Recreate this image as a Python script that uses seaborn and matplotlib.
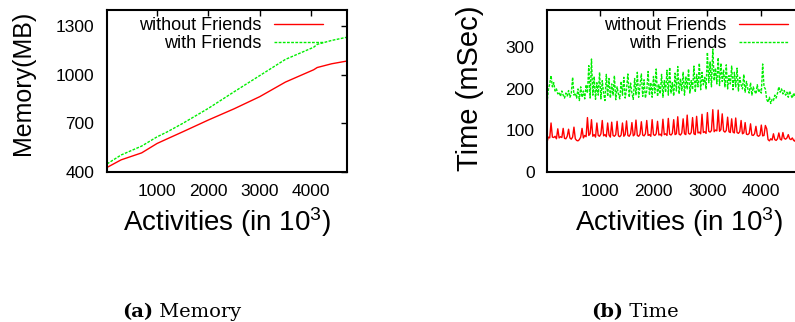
import numpy as np
import matplotlib
matplotlib.use("Agg")
import matplotlib.pyplot as plt
import seaborn as sns

# ---- data ----
mem_x = [25, 300, 700, 1000, 1200, 1500, 2000, 2500, 3000, 3500, 4050, 4120, 4400, 4700]
mem_without = [428, 475, 518, 576, 605, 648, 721, 790, 865, 955, 1031, 1045, 1068, 1085]
mem_with = [450, 505, 560, 617, 648, 700, 793, 895, 995, 1095, 1170, 1188, 1212, 1232]

time_x = np.arange(25, 4701, 25)
time_without = [
    72, 84, 82, 118, 84, 83, 86, 80, 104, 82,
    85, 83, 105, 81, 80, 86, 103, 82, 79, 84,
    108, 80, 76, 75, 78, 84, 105, 82, 88, 85,
    131, 88, 92, 126, 86, 90, 84, 118, 88, 86,
    92, 124, 87, 90, 85, 118, 89, 84, 120, 88,
    86, 90, 122, 87, 85, 89, 118, 86, 90, 123,
    88, 86, 92, 119, 87, 90, 125, 88, 86, 91,
    121, 89, 87, 92, 124, 88, 90, 86, 126, 90,
    88, 92, 122, 89, 91, 87, 127, 90, 92, 88,
    129, 91, 89, 93, 126, 90, 92, 133, 91, 89,
    94, 128, 92, 90, 137, 93, 91, 95, 131, 92,
    90, 134, 94, 96, 92, 139, 95, 97, 93, 143,
    98, 96, 100, 150, 97, 101, 99, 149, 98, 102,
    140, 99, 96, 100, 132, 97, 95, 128, 96, 94,
    130, 95, 93, 97, 124, 92, 94, 119, 91, 90,
    93, 116, 89, 88, 92, 110, 88, 86, 89, 113,
    87, 88, 112, 104, 78, 75, 80, 77, 92, 78,
    76, 80, 94, 79, 77, 95, 81, 79, 82, 90,
    80, 78, 82, 76, 74, 88, 75, 72,
]
time_with = [
    165, 198, 212, 232, 205, 215, 195, 200, 188, 192,
    182, 195, 185, 178, 190, 183, 196, 180, 188, 228,
    185, 190, 178, 200, 172, 205, 180, 195, 176, 210,
    190, 256, 178, 272, 185, 230, 175, 215, 185, 240,
    176, 220, 190, 172, 235, 182, 225, 178, 212, 185,
    232, 174, 205, 188, 176, 218, 185, 228, 178, 200,
    236, 180, 214, 190, 175, 225, 186, 240, 180, 208,
    236, 182, 222, 178, 196, 242, 185, 215, 180, 230,
    190, 248, 182, 210, 188, 235, 180, 220, 192, 245,
    185, 252, 190, 215, 183, 238, 195, 254, 188, 225,
    196, 240, 185, 230, 200, 248, 190, 220, 198, 255,
    192, 235, 205, 262, 198, 240, 210, 228, 200, 288,
    215, 265, 205, 296, 220, 250, 212, 275, 208, 262,
    218, 245, 205, 258, 200, 232, 212, 255, 198, 240,
    205, 250, 195, 228, 210, 200, 235, 192, 218, 200,
    190, 215, 185, 205, 195, 188, 210, 192, 198, 190,
    260, 205, 200, 175, 168, 180, 165, 175, 172, 185,
    178, 190, 205, 192, 200, 188, 196, 185, 192, 180,
    195, 185, 178, 190, 182, 176, 185, 180,
]

labels = ["without Friends", "with Friends"]
colors = ["#ff0000", "#00ee00"]
dash = (0, (2, 1))

sns.set_theme(style="white")
plt.rcParams["font.family"] = ["Liberation Sans", "DejaVu Sans"]
plt.rcParams["mathtext.default"] = "regular"
for k in ["text.color", "axes.labelcolor", "xtick.color", "ytick.color"]:
    plt.rcParams[k] = "black"

fig = plt.figure(figsize=(7.95, 3.22), dpi=100)
ax1 = fig.add_axes([107 / 795, 150 / 322, 240 / 795, 162 / 322])
ax2 = fig.add_axes([547 / 795, 150 / 322, 265 / 795, 162 / 322])

sns.lineplot(x=mem_x, y=mem_without, ax=ax1, color=colors[0], lw=1, label=labels[0])
sns.lineplot(x=mem_x, y=mem_with, ax=ax1, color=colors[1], lw=1, linestyle=dash, label=labels[1])
sns.lineplot(x=time_x, y=time_without, ax=ax2, color=colors[0], lw=1, label=labels[0])
sns.lineplot(x=time_x, y=time_with, ax=ax2, color=colors[1], lw=1, linestyle=dash, label=labels[1])

ax1.set_xlim(25, 4700)
ax1.set_ylim(400, 1400)
ax1.set_yticks([400, 700, 1000, 1300])
ax1.set_ylabel("Memory(MB)", fontsize=18)
ax1.yaxis.set_label_coords(-0.30, 0.549)

ax2.set_xlim(25, 4940)
ax2.set_ylim(0, 390)
ax2.set_yticks([0, 100, 200, 300])
ax2.set_ylabel("Time (mSec)", fontsize=21)
ax2.yaxis.set_label_coords(-0.238, 0.515)

for ax, w in ((ax1, 240), (ax2, 265)):
    ax.set_xticks([1000, 2000, 3000, 4000])
    ax.set_xlabel("Activities (in 10$^3$)", fontsize=20, labelpad=4)
    ax.tick_params(direction="in", length=4, width=1, top=True, right=True,
                   labelsize=12.5, pad=9)
    for s in ax.spines.values():
        s.set_color("black")
        s.set_linewidth(1.5)
    ax.legend(loc="upper right", bbox_to_anchor=(1 - 11 / w, 1.032), frameon=False,
              markerfirst=False, fontsize=13, handlelength=2.75, handletextpad=0.7,
              labelspacing=0.05, borderaxespad=0.3)

# captions: bold tag followed by plain word
cap_font = ["DejaVu Serif"]
for xl, tag, word in [(122, "(a)", " Memory"), (591, "(b)", " Time")]:
    t = fig.text(xl / 795, 1 - 317 / 322, tag, fontsize=14, fontweight="bold",
                 family=cap_font, ha="left", va="baseline")
    fig.text(0, 0, "", fontsize=1)
    ax1.annotate(word, xy=(1, 0), xycoords=t, va="bottom", fontsize=14, family=cap_font,
                 annotation_clip=False)

fig.savefig("out.png", dpi=100)
